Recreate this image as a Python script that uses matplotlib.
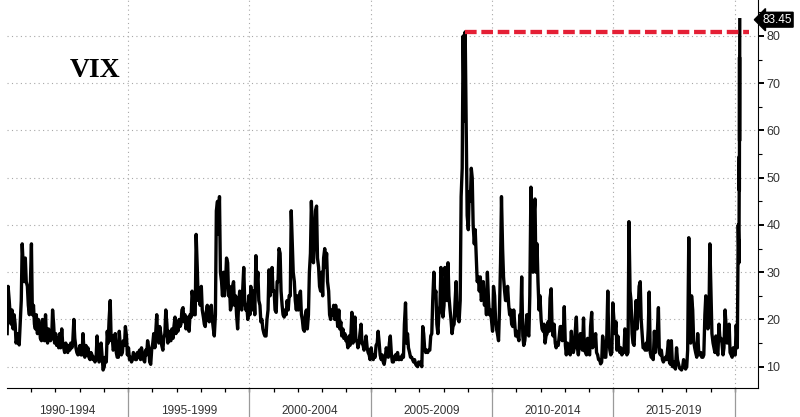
import numpy as np
import pandas as pd
import matplotlib
matplotlib.use("Agg")
import matplotlib.pyplot as plt
import matplotlib.transforms as mtransforms

plt.rcParams["font.family"] = ["Liberation Sans", "DejaVu Sans"]

# VIX readings, two per month (first half / second half), Jan 1990 - Feb 2020
vix_early = [
    17, 24, 19, 18, 19, 16, 14.6, 24, 31, 33, 27, 21,            # 1990
    36, 23, 18, 17, 19, 15.5, 18, 21, 15, 17, 16, 19,            # 1991
    17, 16, 17, 18, 14, 15, 13, 13.5, 14, 20, 14, 12.5,          # 1992
    14.5, 12.5, 14, 14.5, 14, 11.5, 12.5, 12, 12, 12.5, 11.5, 12,  # 1993
    10, 11, 15, 24, 16.5, 14, 13, 12, 14, 13, 14.5, 16.5,        # 1994
    14, 12, 11.5, 12.5, 11.5, 12, 11.5, 12.5, 11, 12.5, 14, 10.5,  # 1995
    15, 14, 21, 15, 17, 13.5, 17, 19, 17.5, 15.5, 16, 20.5,      # 1996
    19.5, 20, 19, 22.5, 21, 19, 17.5, 20.5, 24, 21, 31, 26,      # 1997
    27, 20.5, 18.5, 23, 19.5, 23, 18, 21, 45, 46, 28, 30,        # 1998
    28, 32, 27, 23, 28, 25, 18, 26, 22, 31, 22, 20,              # 1999
    21, 22, 26, 33.5, 30, 23, 20, 17, 16.5, 22, 25, 31,          # 2000
    26, 21.5, 28, 34, 23, 20.5, 21, 22, 25, 36, 28, 22,          # 2001
    22, 26, 20, 17.5, 22, 21, 34, 38, 37, 44, 31, 26,            # 2002
    25, 35, 34, 26, 20, 21, 20, 21, 22, 19.5, 18, 17,            # 2003
    15.5, 16.5, 17, 15, 20.5, 15.5, 15, 19, 14.5, 15, 14, 12.5,  # 2004
    14, 11.5, 12, 15, 15, 11.5, 11, 12, 13, 15, 12.5, 11,        # 2005
    12.5, 13, 11.5, 11.5, 12, 23.5, 17, 13, 12, 11, 10.5, 10,    # 2006
    10.5, 10, 17, 13, 13, 13.5, 17, 30, 26, 17, 23, 22,          # 2007
    23, 28, 32, 22, 17, 19, 28, 20, 24, 52, 62, 60,              # 2008
    39, 45, 50, 36, 33, 29, 29, 25, 23, 21, 24, 22,              # 2009
    17.5, 25, 18, 15.5, 32, 35, 26, 24, 23, 22, 18.5, 19,        # 2010
    17.5, 15.5, 20, 16.5, 15.5, 21, 16.5, 48, 30, 45.5, 36, 22,  # 2011
    20, 17.5, 15, 17, 17.5, 26.5, 16.5, 15, 15, 16.5, 18.5, 17,  # 2012
    14.5, 15, 13, 17.5, 13, 18, 14, 15, 16.5, 20.3, 13, 16,      # 2013
    12.5, 21.5, 15.5, 17, 12.5, 11.5, 11, 14.5, 12, 26, 13.5, 13,  # 2014
    20, 19.5, 16.5, 13, 12.5, 13, 17, 13, 26, 17, 14.5, 24,      # 2015
    22, 28, 17, 14, 15, 18, 13, 12, 17.5, 15, 22.5, 12.5,        # 2016
    11.5, 11.5, 11.5, 15.5, 10.5, 10, 10, 14, 10.5, 9.5, 10, 10,  # 2017
    10, 37.3, 15, 22, 14, 12, 13, 13, 12, 21, 20, 20,            # 2018
    25, 15, 13, 13, 19, 16, 12.5, 22, 15, 19, 12.5, 14,          # 2019
    12.5, 14,                                                    # 2020
]
vix_late = [
    27, 21, 22, 21, 15, 17, 19, 36, 28, 28, 23, 27,              # 1990
    21, 19, 21, 20, 16, 20, 15.5, 16, 18, 15.5, 22, 15,          # 1991
    14.5, 14, 14, 15, 13, 13.5, 14.5, 15, 15.5, 16, 13, 13.5,    # 1992
    12.5, 17, 12, 12.5, 12, 13, 11.5, 11, 16.5, 11, 15, 9.3,     # 1993
    12, 17.5, 20, 15.5, 13.5, 17, 12, 17.5, 12.5, 15.5, 18.5, 12.5,  # 1994
    11.5, 11, 13, 11.5, 13, 13.5, 14, 11.5, 13.5, 15.5, 11, 13.5,  # 1995
    17, 17.5, 16, 18.5, 14.5, 16, 22, 15, 15.5, 18, 18.5, 17,    # 1996
    17.5, 18.5, 22, 19.5, 18, 20.5, 21, 26, 21, 38, 24, 23,      # 1997
    22, 19, 21.5, 20, 22.5, 20, 16.5, 43, 38, 30, 25, 25,        # 1998
    33, 25, 22, 27, 23, 21, 23, 23, 26, 24, 23, 25,              # 1999
    27, 26, 21, 27, 24, 19.5, 18, 16.5, 20, 30.5, 29, 26,        # 2000
    22, 28, 35, 26, 21, 22, 24, 25, 43, 30, 24, 25,              # 2001
    25, 21, 18, 21, 18, 30, 45, 32, 43, 33, 27, 30,              # 2002
    33, 31, 28, 21, 22, 23, 23, 18.5, 18, 16.5, 16, 15.5,        # 2003
    14, 14.5, 21.5, 18, 15.5, 14, 17, 15, 13.5, 16.5, 13, 11.5,  # 2004
    12, 12.5, 14.5, 17.5, 12.5, 12.5, 10.5, 14, 12, 16.5, 11, 12,  # 2005
    11.5, 11.5, 12, 12.5, 19, 15, 14, 12, 11.5, 11.5, 10.2, 11,  # 2006
    11, 18.5, 14, 13.5, 13.5, 16.5, 24, 25, 19, 21, 31, 20.5,    # 2007
    31, 24, 25, 20, 18.5, 23.5, 22, 19.5, 46, 80, 80.86, 42,     # 2008
    47, 52, 40, 39, 28, 26, 24, 28, 26, 30, 21, 20,              # 2009
    27, 20, 17, 22, 46, 29, 24, 27, 21, 19, 22, 16.5,            # 2010
    16.5, 21, 29, 14.5, 18, 17, 25, 37, 42, 30, 28, 25,          # 2011
    18, 19, 16.5, 19.5, 24.5, 18, 19, 14, 14.5, 18.5, 15.5, 22.7,  # 2012
    12.5, 14.5, 12.5, 13.5, 14, 20.5, 12.5, 17, 13.5, 13.5, 12.5, 13,  # 2013
    18.5, 14, 14.5, 13, 11.5, 10.6, 16.5, 12, 16, 16, 12.5, 23.5,  # 2014
    17, 13.5, 14, 14, 13.5, 18, 12.5, 40.7, 24, 15, 20, 18,      # 2015
    27, 20, 14, 13.5, 13.5, 25.8, 12, 11.5, 13, 17, 13, 13.5,    # 2016
    11, 12, 13, 11, 15.5, 11, 9.5, 11.5, 9.7, 9.3, 11.5, 9.5,    # 2017
    13.5, 19, 25, 15.5, 13, 17, 12.5, 12, 12.5, 25, 18, 36,      # 2018
    17, 14, 16.5, 12.5, 16, 15, 14, 19, 15.5, 13, 12, 12.5,      # 2019
    18.8, 40,                                                    # 2020
]
# daily closes in March 2020, last one is the labelled print
mar_2020_days = [2, 3, 4, 5, 6, 9, 10, 11, 12, 13, 16]
mar_2020_vix = [33.4, 36.8, 32.0, 39.6, 41.9, 54.5, 47.3, 53.9, 75.5, 57.8, 83.45]

period_labels = ["1990-1994", "1995-1999", "2000-2004",
                 "2005-2009", "2010-2014", "2015-2019"]
y_ticks = [10, 20, 30, 40, 50, 60, 70, 80]


def to_year(ts):
    days = 366 if ts.is_leap_year else 365
    return ts.year + (ts.dayofyear - 1) / days


months = pd.date_range("1990-01-01", periods=len(vix_early), freq="MS")
xs, ys = [], []
for m, a, b in zip(months, vix_early, vix_late):
    xs += [to_year(m + pd.Timedelta(days=7)), to_year(m + pd.Timedelta(days=21))]
    ys += [a, b]
for d, v in zip(mar_2020_days, mar_2020_vix):
    xs.append(to_year(pd.Timestamp(2020, 3, d)))
    ys.append(v)
xs = np.array(xs)
ys = np.array(ys)

fig = plt.figure(figsize=(8, 4.17), dpi=100)
ax = fig.add_axes([6.7 / 800, 29 / 417, (758 - 6.7) / 800, 388 / 417])
ax.set_xlim(1990.0, 2020.956)
ax.set_ylim(5.49, 87.62)

# dotted grid
grid_kw = dict(color="#a8a8a8", lw=0.8, ls=(0, (1, 3)), zorder=1)
for v in y_ticks:
    ax.axhline(v, **grid_kw)
for yr in range(1995, 2025, 5):
    ax.axvline(yr, **grid_kw)

ax.plot(xs, ys, color="black", lw=2.4, zorder=3)

# 2008 high carried forward
pre = xs < 2020
i_peak = np.argmax(ys[pre])
ax.plot([xs[i_peak], 2020.58], [ys[i_peak], ys[i_peak]],
        color="#e41f35", lw=3.1, dashes=(2.7, 1.1), zorder=4)

for s in ["left", "top"]:
    ax.spines[s].set_visible(False)
ax.spines["bottom"].set_color("black")
ax.spines["right"].set_color("black")

ax.yaxis.tick_right()
ax.set_yticks(y_ticks)
ax.set_yticks(np.arange(15, 90, 10), minor=True)
ax.tick_params(axis="y", which="major", length=4, width=1.4, pad=2,
               labelsize=9, labelcolor="#333333")
ax.tick_params(axis="y", which="minor", length=3, width=0.8)

ax.set_xticks(range(1991, 2021))
ax.set_xticklabels([])
ax.tick_params(axis="x", which="major", length=3, width=0.9)

trans = mtransforms.blended_transform_factory(ax.transData, ax.transAxes)
for yr in range(1995, 2025, 5):
    ax.plot([yr, yr], [0, -0.08], transform=trans, color="#9a9a9a",
            lw=0.9, clip_on=False)
for i, lab in enumerate(period_labels):
    ax.text(1992.5 + 5 * i, -0.067, lab, transform=trans, ha="center",
            va="baseline", fontsize=8.5, color="#333333")

# last value tag
ytrans = mtransforms.blended_transform_factory(ax.transAxes, ax.transData)
ax.annotate(f"{ys[-1]:.2f}", xy=(1.0, ys[-1]), xycoords=ytrans,
            xytext=(3, 0), textcoords="offset points", ha="left", va="center",
            fontsize=8.5, color="white", annotation_clip=False,
            bbox=dict(boxstyle="larrow,pad=0.12", fc="black", ec="black"))

ax.text(1994.67, 71.3, "VIX", ha="right", va="baseline",
        fontfamily="Liberation Serif", fontweight="bold", fontsize=20)

fig.savefig("out.png", dpi=100, facecolor="white")
